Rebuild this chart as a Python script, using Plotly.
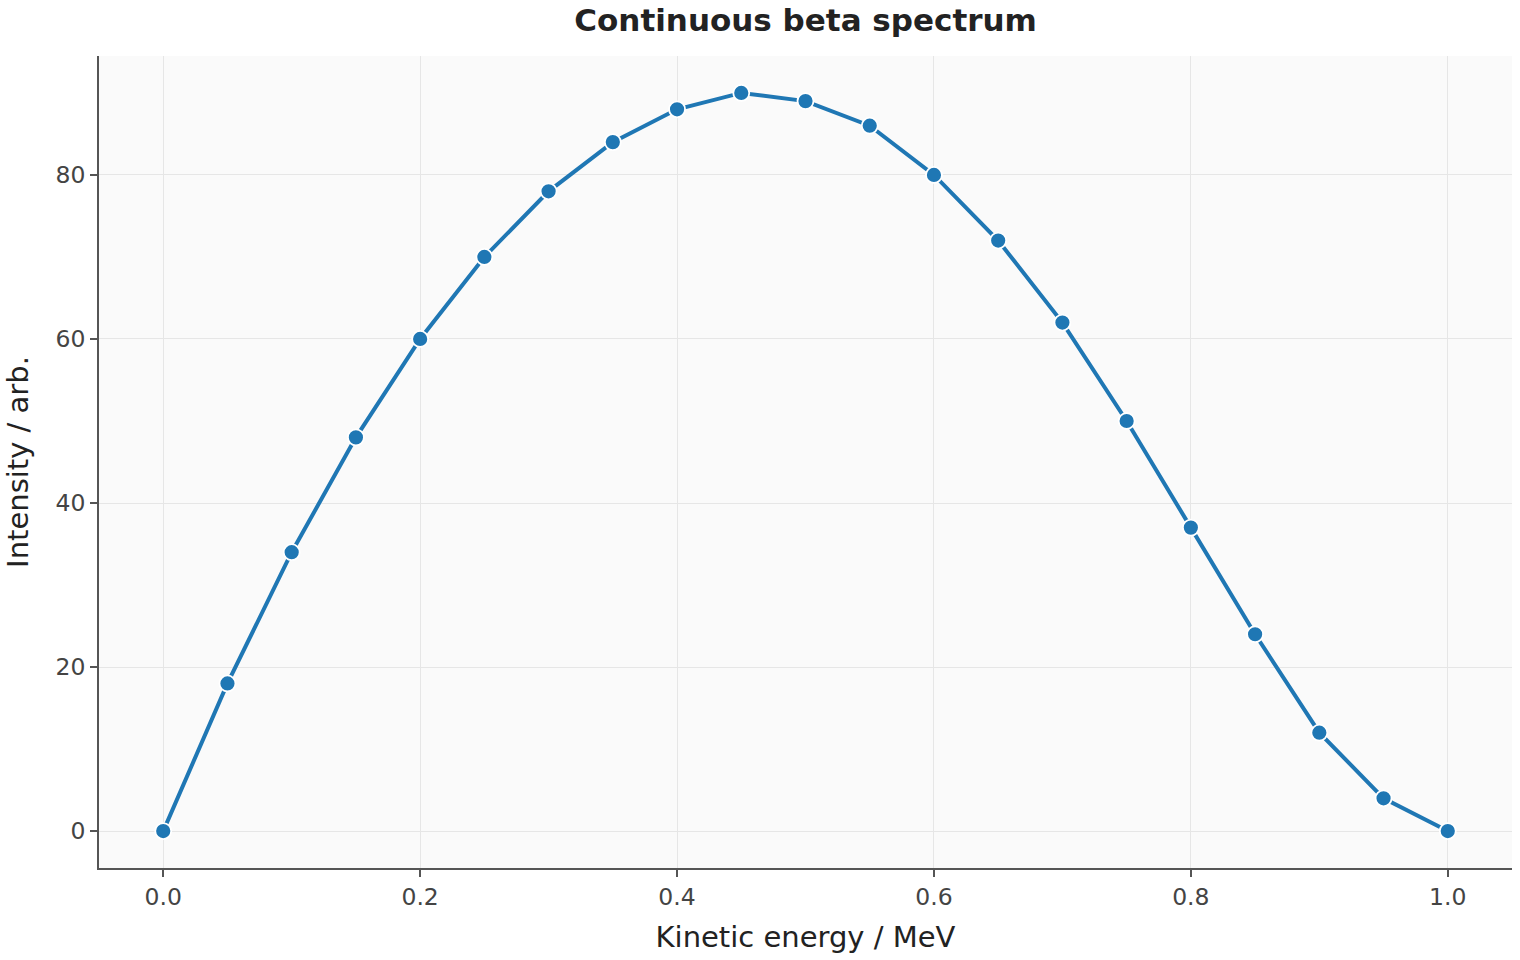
import plotly.graph_objects as go

energy = [0.0, 0.05, 0.1, 0.15, 0.2, 0.25, 0.3, 0.35, 0.4, 0.45, 0.5,
          0.55, 0.6, 0.65, 0.7, 0.75, 0.8, 0.85, 0.9, 0.95, 1.0]
intensity = [0, 18, 34, 48, 60, 70, 78, 84, 88, 90, 89,
             86, 80, 72, 62, 50, 37, 24, 12, 4, 0]
x_ticks = [0.0, 0.2, 0.4, 0.6, 0.8, 1.0]
x_tick_labels = ["0.0", "0.2", "0.4", "0.6", "0.8", "1.0"]
y_ticks = [0, 20, 40, 60, 80]

fig = go.Figure()
fig.add_trace(go.Scatter(
    x=energy, y=intensity, mode="lines+markers",
    line=dict(color="#1f77b4", width=4),
    marker=dict(color="#1f77b4", size=16, line=dict(color="white", width=1.8)),
    showlegend=False,
))

axis_common = dict(
    showline=True, linecolor="#555555", linewidth=1.8,
    ticks="outside", ticklen=7, tickwidth=1.8, tickcolor="#555555",
    showgrid=True, gridcolor="#e6e6e6", gridwidth=1.2,
    zeroline=False, tickfont=dict(size=23.5, color="#444444"),
    mirror=False,
)

fig.update_layout(
    width=1520, height=960,
    margin=dict(l=99, r=8, t=56, b=92),
    paper_bgcolor="white", plot_bgcolor="#fafafa",
    font=dict(family="DejaVu Sans", color="#222222"),
    title=dict(text="<b>Continuous beta spectrum</b>", x=0.53, xanchor="center",
               y=0.979, yanchor="middle", font=dict(size=31, color="#222222")),
    xaxis=dict(range=[-0.05, 1.05], tickvals=x_ticks, ticktext=x_tick_labels,
               title=dict(text="Kinetic energy / MeV", font=dict(size=29, color="#222222"), standoff=17),
               **axis_common),
    yaxis=dict(range=[-4.5, 94.5], tickvals=y_ticks,
               title=dict(text="Intensity / arb.", font=dict(size=29, color="#222222"), standoff=18),
               **axis_common),
)

fig.write_html("out.html")
